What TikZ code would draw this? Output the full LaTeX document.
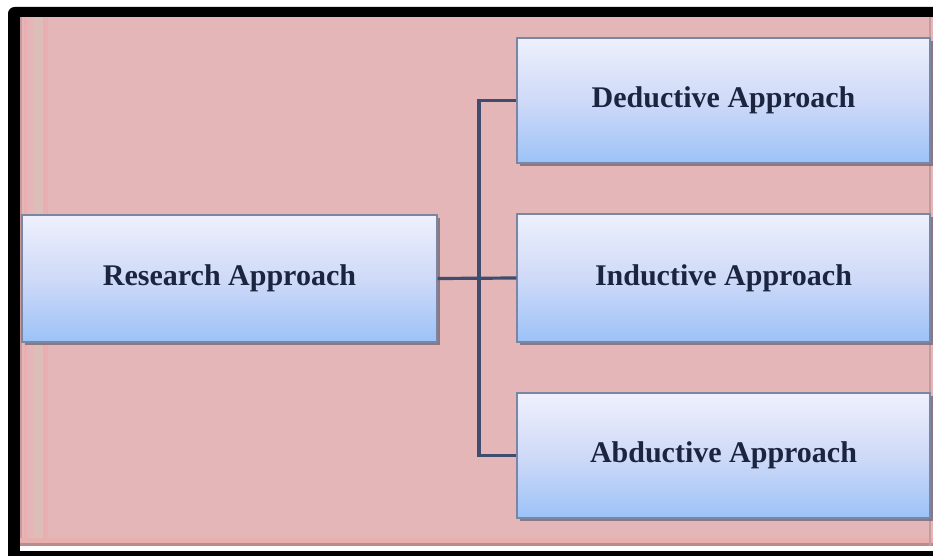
\documentclass[tikz,border=0pt]{standalone}
\usepackage{fontspec}
\setmainfont{Liberation Serif}
\definecolor{panel}{HTML}{E4B6B8}
\definecolor{stripeA}{HTML}{C99A9C}
\definecolor{stripeB}{HTML}{E9AEB2}
\definecolor{stripeC}{HTML}{DDBDB8}
\definecolor{stripeD}{HTML}{B88C8A}
\definecolor{stripeE}{HTML}{E7B0AE}
\definecolor{stripeF}{HTML}{C49CA0}
\definecolor{boxtop}{HTML}{EEF0FC}
\definecolor{boxmid}{HTML}{CFDAF8}
\definecolor{boxbot}{HTML}{9CC2F7}
\definecolor{boxedge}{HTML}{7A86A4}
\definecolor{shade}{HTML}{6E6470}
\definecolor{link}{HTML}{3F4C6E}
\definecolor{ink}{HTML}{1C2540}
\tikzset{
  approach/.style={rectangle, draw=boxedge, line width=0.8pt,
    top color=boxtop, bottom color=boxbot, middle color=boxmid,
    text=ink, font=\fontsize{22.5}{27}\selectfont\bfseries,
    inner sep=0pt},
  shadowbox/.style={fill=shade, opacity=0.75},
  conn/.style={draw=link, line width=2.4pt}
}
\begin{document}
\begin{tikzpicture}[x=0.75pt, y=-0.75pt]
  \useasboundingbox (0,0) rectangle (933,556);
  \begin{scope}
    \clip (0,0) rectangle (933,556);
    % page and black frame
    \fill[white] (0,0) rectangle (933,556);
    \fill[black, rounded corners=5pt] (8,7) rectangle (960,600);
    \fill[white] (20,546) rectangle (933,551);
    \fill[panel] (20,17) rectangle (933,546);
    % edge stripes of the panel
    \fill[stripeA] (20,17) rectangle (22,546);
    \fill[stripeB] (24,17) rectangle (27,546);
    \fill[stripeC] (33,17) rectangle (43,546);
    \fill[stripeB] (43,17) rectangle (48,546);
    \fill[stripeD] (20,543) rectangle (933,546);
    \fill[stripeE] (20,538) rectangle (933,543);
    \fill[stripeF] (929,17) rectangle (931,546);
  \end{scope}

  % shadows under the boxes
  \fill[shadowbox] (25,218) rectangle (440,345);
  \fill[shadowbox] (520,41) rectangle (940,166);
  \fill[shadowbox] (520,217) rectangle (940,345);
  \fill[shadowbox] (520,396) rectangle (940,521);

  % boxes
  \node[approach, minimum width=311.25pt, minimum height=95.25pt]
    (ra) at (229.5,278.5) {Research Approach};
  \node[approach, minimum width=309.75pt, minimum height=93.75pt]
    (da) at (723.5,100.5) {Deductive Approach};
  \node[approach, minimum width=309.75pt, minimum height=96pt]
    (ia) at (723.5,278) {Inductive Approach};
  \node[approach, minimum width=309.75pt, minimum height=93.75pt]
    (aa) at (723.5,455.5) {Abductive Approach};

  % connectors
  \coordinate (bus) at (479,278);
  \draw[conn] (da.west) -- (da.west -| bus) -- (aa.west -| bus) -- (aa.west);
  \draw[conn] (ra.east) -- (ia.west);
\end{tikzpicture}
\end{document}
